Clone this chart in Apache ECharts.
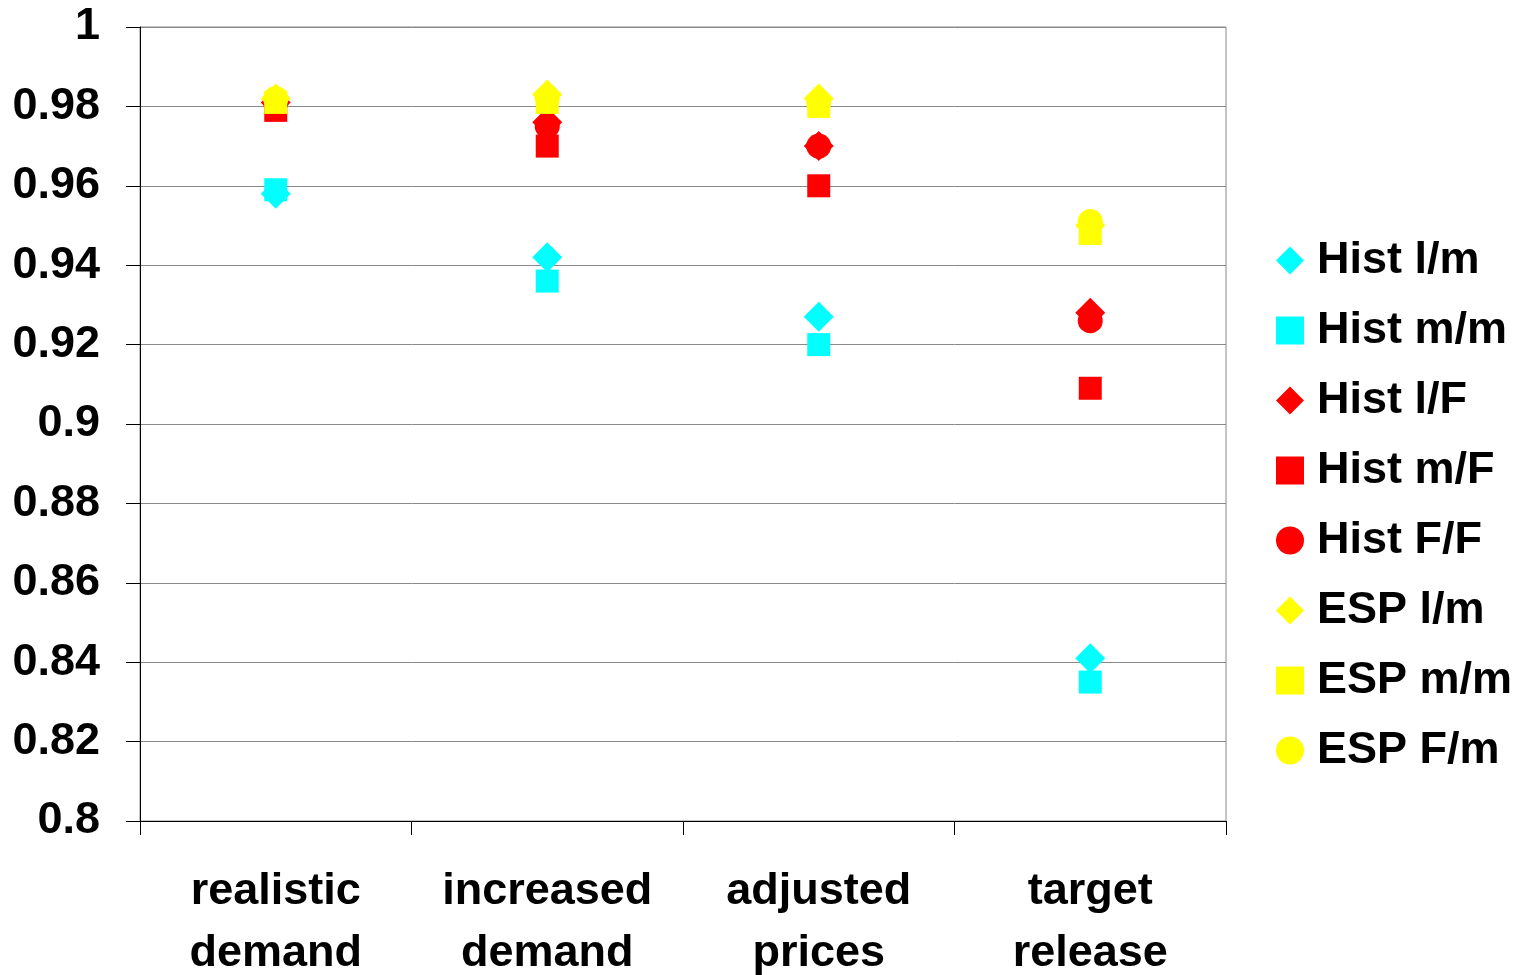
<!DOCTYPE html>
<html>
<head>
<meta charset="utf-8">
<script src="https://cdn.jsdelivr.net/npm/echarts@6/dist/echarts.min.js"></script>
<style>html,body{margin:0;padding:0;background:#fff;}#c{width:1533px;height:975px;}</style>
</head>
<body>
<div id="c"></div>
<script>
var categories = ['realistic\ndemand', 'increased\ndemand', 'adjusted\nprices', 'target\nrelease'];
var histLm = [0.958, 0.942, 0.927, 0.841];
var histMm = [0.959, 0.936, 0.920, 0.835];
var histLF = [0.981, 0.976, 0.970, 0.928];
var histMF = [0.979, 0.970, 0.960, 0.909];
var histFF = [0.981, 0.975, 0.970, 0.926];
var espLm = [0.982, 0.983, 0.982, 0.950];
var espMm = [0.981, 0.981, 0.980, 0.948];
var espFm = [0.982, 0.982, 0.981, 0.951];
var yTicks = {min: 0.8, max: 1, interval: 0.02};

var CYAN = '#00FFFF', RED = '#FF0000', YEL = '#FFFF00';
function s(name, data, symbol, size, color) {
  return {name: name, type: 'scatter', data: data, symbol: symbol, symbolSize: size,
    itemStyle: {color: color, opacity: 1}, emphasis: {disabled: true}};
}
var FONT = '"Liberation Sans", Arial, sans-serif';
var chart = echarts.init(document.getElementById('c'), null, {renderer: 'canvas'});
chart.setOption({
  animation: false,
  backgroundColor: '#fff',
  grid: {left: 140, right: 307, top: 27, bottom: 154, show: true, borderColor: '#888', borderWidth: 1,
    containLabel: false, outerBoundsMode: 'none'},
  legend: {
    orient: 'vertical', left: 1271, top: 233, itemWidth: 28, itemHeight: 28, itemGap: 25,
    textStyle: {fontFamily: FONT, fontWeight: 'bold', fontSize: 45, color: '#000', lineHeight: 45, padding: [0,0,0,8]},
    data: [
      {name: 'Hist l/m', icon: 'diamond'},
      {name: 'Hist m/m', icon: 'rect'},
      {name: 'Hist l/F', icon: 'diamond'},
      {name: 'Hist m/F', icon: 'rect'},
      {name: 'Hist F/F', icon: 'circle'},
      {name: 'ESP l/m', icon: 'diamond'},
      {name: 'ESP m/m', icon: 'rect'},
      {name: 'ESP F/m', icon: 'circle'}
    ]
  },
  xAxis: {
    type: 'category', data: categories, boundaryGap: true,
    axisLine: {lineStyle: {color: '#000', width: 1}},
    axisTick: {show: true, length: 14, lineStyle: {color: '#000'}},
    axisLabel: {fontFamily: FONT, fontWeight: 'bold', fontSize: 45, color: '#000', lineHeight: 62, margin: 40, interval: 0},
    splitLine: {show: false}
  },
  yAxis: {
    type: 'value', min: yTicks.min, max: yTicks.max, interval: yTicks.interval,
    axisLine: {show: true, lineStyle: {color: '#000', width: 1}},
    axisTick: {show: true, length: 14, lineStyle: {color: '#000'}},
    axisLabel: {fontFamily: FONT, fontWeight: 'bold', fontSize: 45, color: '#000', margin: 40,
      formatter: function (v) { return String(parseFloat(v.toFixed(2))); }},
    splitLine: {show: true, lineStyle: {color: '#888', width: 1}}
  },
  series: [
    s('Hist l/m', histLm, 'diamond', [30, 30], CYAN),
    s('Hist m/m', histMm, 'rect', [23, 23], CYAN),
    s('Hist l/F', histLF, 'diamond', [30, 30], RED),
    s('Hist m/F', histMF, 'rect', [23, 23], RED),
    s('Hist F/F', histFF, 'circle', 25, RED),
    s('ESP l/m', espLm, 'diamond', [30, 30], YEL),
    s('ESP m/m', espMm, 'rect', [23, 23], YEL),
    s('ESP F/m', espFm, 'circle', 25, YEL)
  ]
});
</script>
</body>
</html>
